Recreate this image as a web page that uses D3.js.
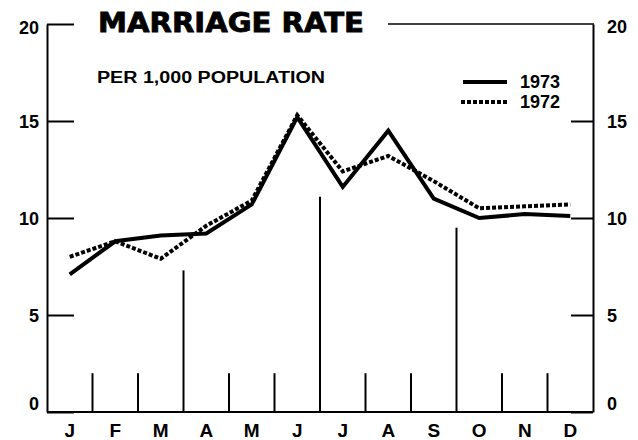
<!DOCTYPE html>
<html>
<head>
<meta charset="utf-8">
<script src="https://cdn.jsdelivr.net/npm/d3@7"></script>
<style>
  body { margin: 0; background: #fff; }
  text { font-family: "Liberation Sans", Arial, Helvetica, sans-serif; font-weight: bold; fill: #000; }
</style>
</head>
<body>
<svg id="chart" width="638" height="440"></svg>
<script>
const monthKeys = ["Jan", "Feb", "Mar", "Apr", "May", "Jun", "Jul", "Aug", "Sep", "Oct", "Nov", "Dec"];
const monthLabels = ["J", "F", "M", "A", "M", "J", "J", "A", "S", "O", "N", "D"];
const rate1973 = [7.1, 8.8, 9.1, 9.2, 10.7, 15.2, 11.6, 14.5, 11.0, 10.0, 10.2, 10.1];
const rate1972 = [8.0, 8.8, 7.9, 9.6, 10.9, 15.3, 12.4, 13.2, 11.9, 10.5, 10.6, 10.7];
// heights of the month divider marks along the bottom (in rate units)
const dividerHeights = [2, 2, 7.3, 2, 2, 11.1, 2, 2, 9.5, 2, 2];
const yTicks = [0, 5, 10, 15, 20];

const svg = d3.select('#chart');

const plotLeft = 47, plotRight = 593, plotTop = 24, plotBottom = 412;

const xBand = d3.scaleBand().domain(monthKeys).range([plotLeft, plotRight]);
const x = d => xBand(d) + xBand.bandwidth() / 2;
const y = d3.scaleLinear().domain([0, 20]).range([plotBottom, plotTop]);

// left axis: ticks point inward, labels outside
const yLeft = d3.axisLeft(y).tickValues(yTicks).tickSizeInner(-27).tickSizeOuter(0).tickPadding(8);
const gL = svg.append('g').attr('transform', `translate(${plotLeft},0)`).call(yLeft);

const yRight = d3.axisRight(y).tickValues(yTicks.filter(v => v < 20)).tickSizeInner(-22).tickSizeOuter(0).tickPadding(14);
const gR = svg.append('g').attr('transform', `translate(${plotRight},0)`).call(yRight);

[gL, gR].forEach(g => {
  g.select('.domain').attr('stroke', '#000').attr('stroke-width', 2);
  g.selectAll('.tick line').attr('stroke', '#000').attr('stroke-width', 2);
  g.selectAll('.tick text').style('font-size', '18px').attr('fill', '#000')
    .attr('dy', d => d === 0 ? '-0.15em' : d === 20 ? '0.5em' : '0.35em');
});

// right-side label for 20 sits beside the top border line
svg.append('text')
  .attr('x', plotRight + 14).attr('y', y(20)).attr('dy', '0.5em')
  .style('font-size', '18px').text('20');

// top border line to the right of the title
svg.append('line')
  .attr('x1', 388).attr('x2', plotRight + 1)
  .attr('y1', y(20)).attr('y2', y(20))
  .attr('stroke', '#000').attr('stroke-width', 1.6);

// baseline
svg.append('line')
  .attr('x1', plotLeft).attr('x2', plotRight)
  .attr('y1', y(0)).attr('y2', y(0))
  .attr('stroke', '#000').attr('stroke-width', 2);

// month dividers
svg.selectAll('line.divider').data(dividerHeights)
  .enter().append('line')
  .attr('class', 'divider')
  .attr('x1', (d, i) => xBand(monthKeys[i + 1]))
  .attr('x2', (d, i) => xBand(monthKeys[i + 1]))
  .attr('y1', y(0))
  .attr('y2', d => y(d))
  .attr('stroke', '#000')
  .attr('stroke-width', 2);

// month labels
const xAxis = d3.axisBottom(xBand).tickSize(0).tickPadding(12).tickFormat((d, i) => monthLabels[i]);
const gX = svg.append('g').attr('transform', `translate(0,${plotBottom})`).call(xAxis);
gX.select('.domain').remove();
gX.selectAll('.tick text').style('font-size', '19px').attr('fill', '#000');

// lines
const line = d3.line()
  .x((d, i) => x(monthKeys[i]))
  .y(d => y(d));

svg.append('path')
  .attr('d', line(rate1972))
  .attr('fill', 'none')
  .attr('stroke', '#000')
  .attr('stroke-width', 4)
  .attr('stroke-dasharray', '4 2');

svg.append('path')
  .attr('d', line(rate1973))
  .attr('fill', 'none')
  .attr('stroke', '#000')
  .attr('stroke-width', 4)
  .attr('stroke-linejoin', 'miter');

// title
svg.append('text')
  .attr('x', 98).attr('y', 32)
  .attr('textLength', 266).attr('lengthAdjust', 'spacingAndGlyphs')
  .style('font-family', '"DejaVu Sans", sans-serif')
  .style('font-size', '26px')
  .style('stroke', '#000').style('stroke-width', 0.8)
  .text('MARRIAGE RATE');

svg.append('text')
  .attr('x', 97).attr('y', 83)
  .attr('textLength', 228).attr('lengthAdjust', 'spacingAndGlyphs')
  .style('font-size', '16px')
  .text('PER 1,000 POPULATION');

// legend
svg.append('line')
  .attr('x1', 463).attr('x2', 507).attr('y1', 82).attr('y2', 82)
  .attr('stroke', '#000').attr('stroke-width', 4);
svg.append('text').attr('x', 520).attr('y', 88).style('font-size', '18px').text('1973');

svg.append('line')
  .attr('x1', 461).attr('x2', 508).attr('y1', 102).attr('y2', 102)
  .attr('stroke', '#000').attr('stroke-width', 4).attr('stroke-dasharray', '4 2');
svg.append('text').attr('x', 520).attr('y', 108).style('font-size', '18px').text('1972');
</script>
</body>
</html>
